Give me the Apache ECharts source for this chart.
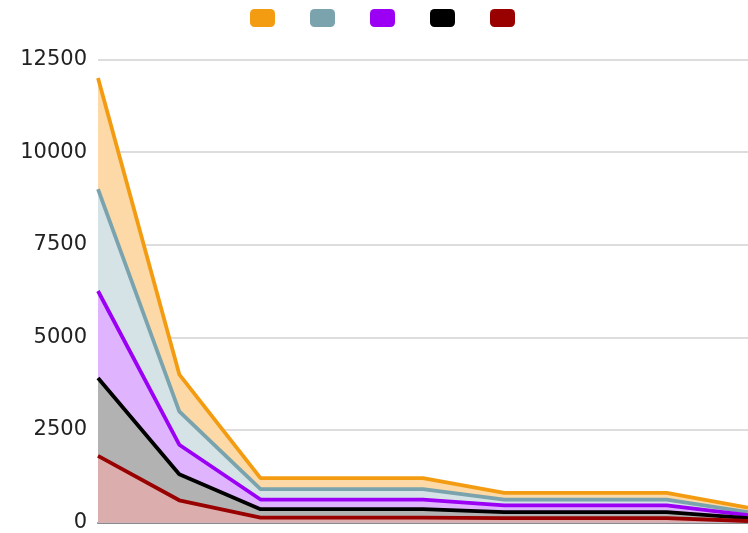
<!DOCTYPE html>
<html>
<head>
<meta charset="utf-8">
<script src="https://cdn.jsdelivr.net/npm/echarts@6/dist/echarts.min.js"></script>
<style>
  html, body { margin: 0; padding: 0; background: #fff; }
  #chart { width: 748px; height: 533px; }
</style>
</head>
<body>
<div id="chart"></div>
<script>
// Categories along the x axis (labels are not shown)
const categories = ['1', '2', '3', '4', '5', '6', '7', '8', '9'];

// Series values, drawn back to front
const seriesNames = ['A', 'B', 'C', 'D', 'E'];
const valuesA = [12000, 4000, 1200, 1200, 1200, 800, 800, 800, 400];
const valuesB = [9000, 3000, 900, 900, 900, 620, 620, 620, 280];
const valuesC = [6250, 2100, 620, 620, 620, 460, 460, 460, 200];
const valuesD = [3900, 1300, 360, 360, 360, 280, 280, 280, 120];
const valuesE = [1800, 600, 130, 130, 130, 120, 120, 120, 40];

const yTicks = [0, 2500, 5000, 7500, 10000, 12500];

const lineColors = ['#f39c12', '#7aa3ad', '#9b00f5', '#000000', '#990000'];
const fillColors = ['#fcd9a6', '#d5e3e7', '#dfb3fe', '#b2b2b2', '#dcadad'];
const allValues = [valuesA, valuesB, valuesC, valuesD, valuesE];

const chart = echarts.init(document.getElementById('chart'));

chart.setOption({
  animation: false,
  backgroundColor: '#ffffff',
  legend: {
    left: 245,
    top: 4,
    icon: 'roundRect',
    itemWidth: 25,
    itemHeight: 18,
    itemGap: 35,
    formatter: () => '',
    data: seriesNames
  },
  grid: {
    left: 98,
    right: -9,
    top: 59.5,
    bottom: 9.5,
    containLabel: false
  },
  xAxis: {
    type: 'category',
    data: categories,
    boundaryGap: false,
    axisLine: { show: true, lineStyle: { color: '#8a8a8a', width: 2 } },
    axisTick: { show: false },
    axisLabel: { show: false },
    splitLine: { show: false }
  },
  yAxis: {
    type: 'value',
    min: yTicks[0],
    max: yTicks[yTicks.length - 1],
    interval: 2500,
    axisLine: { show: false },
    axisTick: { show: false },
    axisLabel: {
      margin: 11,
      color: '#222222',
      fontSize: 21,
      fontFamily: 'DejaVu Sans, sans-serif',
      formatter: (v) => String(v)
    },
    splitLine: { lineStyle: { color: '#d2d2d2', width: 1.5 } }
  },
  series: allValues.map((vals, i) => ({
    name: seriesNames[i],
    type: 'line',
    data: vals,
    symbol: 'none',
    z: 2 + i,
    itemStyle: { color: lineColors[i] },
    lineStyle: { color: lineColors[i], width: 3.8 },
    areaStyle: { color: fillColors[i], opacity: 1 }
  }))
});
</script>
</body>
</html>
